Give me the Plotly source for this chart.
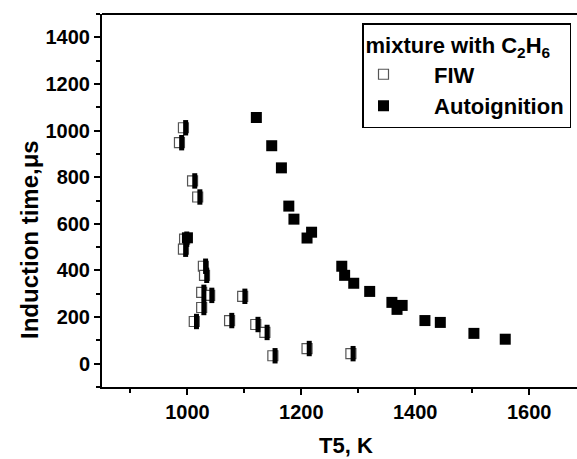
import plotly.graph_objects as go

# ---- data ----
fiw_T = [993, 986, 1009, 1018, 995, 993, 1028, 1030, 1025, 1039, 1097, 1025,
         1012, 1074, 1120, 1136, 1150, 1210, 1287]
fiw_t = [1012, 948, 784, 715, 534, 491, 418, 379, 306, 293, 289, 241,
         181, 185, 168, 134, 34, 65, 43]

auto_T = [1000, 1121, 1148, 1165, 1178, 1187, 1210, 1218, 1271, 1276, 1292,
          1320, 1359, 1368, 1377, 1417, 1444, 1503, 1558]
auto_t = [540, 1056, 935, 840, 676, 620, 539, 564, 418, 379, 345,
          310, 263, 233, 250, 185, 177, 130, 105]

x_ticks = [1000, 1200, 1400, 1600]
y_ticks = [0, 200, 400, 600, 800, 1000, 1200, 1400]

FONT = "Liberation Sans, Arial, sans-serif"
X_RANGE = [850, 1684]
W, H = 577, 459
ML, MR, MT, MB = 102, 0, 14, 72
plot_w = W - ML - MR
plot_h = H - MT - MB
shift = 2.2 * (X_RANGE[1] - X_RANGE[0]) / plot_w  # half-marker offset in axis units
PAD = "\u00a0" * 5

fig = go.Figure()

# FIW: white left half with grey outline
fig.add_trace(go.Scatter(
    x=fiw_T, y=fiw_t, mode="markers", name=PAD + "FIW",
    marker=dict(symbol="square", size=10, color="white",
                line=dict(color="#555", width=1.2)),
    legendgroup="fiw",
))
# FIW: black right half (drawn on an overlaid, shifted x axis)
fig.add_trace(go.Scatter(
    x=fiw_T, y=fiw_t, mode="markers", name="FIW", xaxis="x2",
    marker=dict(symbol="line-ns", size=11, line=dict(color="black", width=5)),
    legendgroup="fiw", showlegend=False,
))
# Autoignition: filled squares
fig.add_trace(go.Scatter(
    x=auto_T, y=auto_t, mode="markers", name=PAD + "Autoignition",
    marker=dict(symbol="square", size=11, color="black",
                line=dict(color="black", width=0)),
))

axis_common = dict(
    showline=True, linecolor="black", linewidth=2,
    ticks="outside", ticklen=6, tickwidth=1.5, tickcolor="black",
    showgrid=False, zeroline=False,
    tickfont=dict(family=FONT, size=20, color="black", weight="bold"),
)

title_font = dict(family=FONT, color="black", weight="bold")

fig.update_layout(
    width=W, height=H,
    margin=dict(l=ML, r=MR, t=MT, b=MB),
    paper_bgcolor="white", plot_bgcolor="white",
    font=dict(family=FONT, color="black", weight="bold"),
    xaxis=dict(
        range=X_RANGE, tickvals=x_ticks, **axis_common,
        minor=dict(dtick=100, tick0=900, ticks="outside", ticklen=4,
                   tickcolor="black", tickwidth=1.5),
    ),
    xaxis2=dict(range=[X_RANGE[0] - shift, X_RANGE[1] - shift],
                overlaying="x", visible=False),
    yaxis=dict(
        range=[-100, 1500], tickvals=y_ticks, **axis_common,
        minor=dict(dtick=100, tick0=-100, ticks="outside", ticklen=4,
                   tickcolor="black", tickwidth=1.5),
    ),
    legend=dict(
        x=(362 - ML) / plot_w, y=0.975,
        xanchor="left", yanchor="top",
        bordercolor="black", borderwidth=1.5, bgcolor="white",
        font=dict(family=FONT, size=22, color="black", weight="bold"),
        title=dict(text="mixture with C<sub>2</sub>H<sub>6</sub>",
                   font=dict(family=FONT, size=22, color="black", weight="bold")),
        tracegroupgap=0,
    ),
    showlegend=True,
    annotations=[
        dict(text="T5, K", xref="paper", yref="paper",
             x=(346 - ML) / plot_w, y=(H - MB - 446) / plot_h,
             xanchor="center", yanchor="middle", showarrow=False,
             font=dict(size=22, **title_font)),
        dict(text="Induction time,μs", xref="paper", yref="paper",
             x=(30 - ML) / plot_w, y=(H - MB - 240) / plot_h, textangle=-90,
             xanchor="center", yanchor="middle", showarrow=False,
             font=dict(size=24, **title_font)),
    ],
    shapes=[dict(type="line", xref="paper", yref="paper", x0=0, x1=1, y0=1, y1=1,
                 line=dict(color="black", width=2))],
)

fig.write_html("out.html")
